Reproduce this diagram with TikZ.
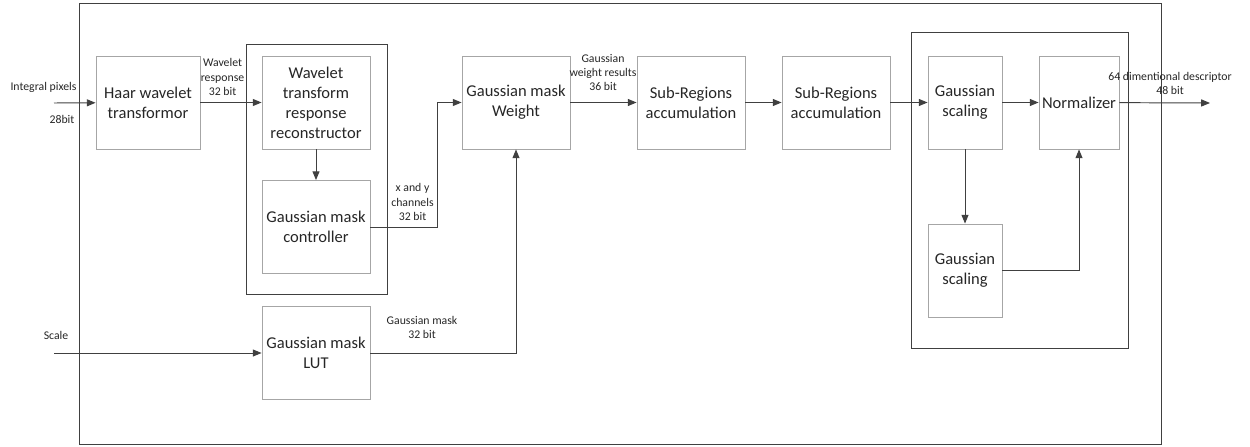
\documentclass[tikz,border=0pt]{standalone}
\usepackage{fontspec}
\setmainfont{Carlito}
\usetikzlibrary{arrows.meta, positioning}

\begin{document}
\begin{tikzpicture}[
  x=0.02cm, y=-0.02cm,
  blk/.style={rectangle, draw=black!35, line width=0.5pt, align=center,
              minimum width=2.16cm, minimum height=1.86cm, inner sep=0pt,
              text=black!85, font=\fontsize{9.4}{11.4}\selectfont},
  grp/.style={draw=black!75, line width=0.55pt},
  lbl/.style={align=center, inner sep=0pt, text=black!85,
              font=\fontsize{6.7}{8}\selectfont},
  arr/.style={-{Triangle[length=5pt,width=4pt]}, line width=0.55pt, draw=black!75},
]
  \useasboundingbox (0,0) rectangle (1250,446);

  % frames
  \draw[grp] (79,3) rectangle (1161,444);
  \draw[grp] (246,44) rectangle (387,294);
  \draw[grp] (911,32) rectangle (1128,348);

  % blocks
  \node[blk, minimum width=2.08cm] (haar)  at (148,102.5) {Haar wavelet\\transformor};
  \node[blk] (recon) at (316,102.5) {Wavelet\\transform\\response\\reconstructor};
  \node[blk] (ctrl)  at (316,227)   {Gaussian mask\\controller};
  \node[blk] (lut)   at (316,353)   {Gaussian mask\\LUT};
  \node[blk] (gmw)   at (516,102.5) {Gaussian mask\\Weight};
  \node[blk] (sra)   at (691,102.5) {Sub-Regions\\accumulation};
  \node[blk] (srb)   at (836,102.5) {Sub-Regions\\accumulation};
  \node[blk, minimum width=1.48cm] (gsa)  at (965,102.5) {Gaussian\\scaling};
  \node[blk, minimum width=1.6cm]  (norm) at (1079,102.5) {Normalizer};
  \node[blk, minimum width=1.48cm] (gsb)  at (965,270.5) {Gaussian\\scaling};

  \coordinate (pix)   at (54,103);
  \coordinate (scale) at (54,353);
  \coordinate (desc)  at (1210,103);

  % labels
  \node[lbl] (lpix)   at (43.5,87)  {Integral pixels};
  \node[lbl] (lbits)  at (62,119)   {28bit};
  \node[lbl] (lwave)  at (222.5,77) {Wavelet\\response\\32 bit};
  \node[lbl] (lxy)    at (412.5,202) {x and y\\channels\\32 bit};
  \node[lbl] (lgw)    at (603,72.5) {Gaussian\\weight results\\36 bit};
  \node[lbl] (lscale) at (56,335)   {Scale};
  \node[lbl] (lmask)  at (422,327)  {Gaussian mask\\32 bit};
  \node[lbl] (ldesc)  at (1170,83.5) {64 dimentional descriptor\\48 bit};

  % connections
  \draw[arr] (pix) -- (haar);
  \draw[arr] (haar) -- (recon);
  \draw[arr] (recon) -- (ctrl);
  \draw[arr] (ctrl.east) -- ++(67,0) |- (gmw.west);
  \draw[arr] (scale) -- (lut);
  \draw[arr] (lut.east) -| (gmw.south);
  \draw[arr] (gmw) -- (sra);
  \draw[arr] (sra) -- (srb);
  \draw[arr] (srb) -- (gsa);
  \draw[arr] (gsa) -- (norm);
  \draw[arr] (gsa) -- (gsb);
  \draw[arr] (gsb.east) -| (norm.south);
  \draw[arr] (norm) -- (desc);
\end{tikzpicture}
\end{document}
